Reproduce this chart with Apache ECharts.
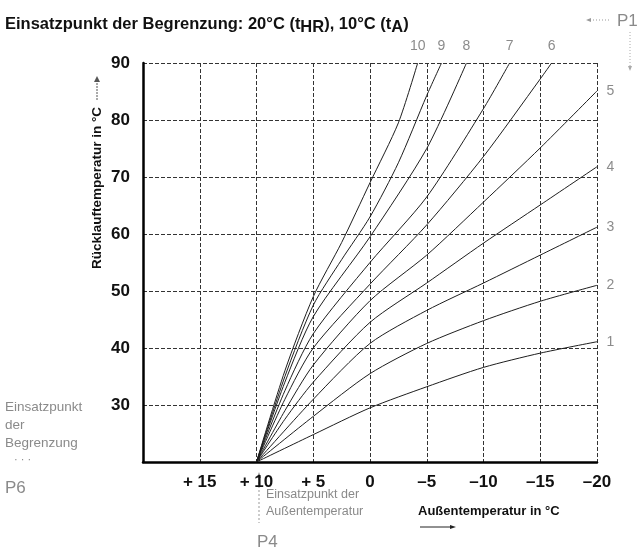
<!DOCTYPE html>
<html><head><meta charset="utf-8">
<script src="https://cdn.jsdelivr.net/npm/echarts@6/dist/echarts.min.js"></script>
<style>html,body{margin:0;padding:0;background:#fff}#c{width:638px;height:555px}</style>
</head><body><div id="c"></div>
<script>
// Axis ticks
const xTickValues = [20, 15, 10, 5, 0, -5, -10, -15, -20];
const xTickLabels = ['', '+ 15', '+ 10', '+ 5', '0', '–5', '–10', '–15', '–20'];
const yTickValues = [20, 30, 40, 50, 60, 70, 80, 90];
const yTickLabels = ['', '30', '40', '50', '60', '70', '80', '90'];

// Heating curve labels
const curveNames = ['1', '2', '3', '4', '5', '6', '7', '8', '9', '10'];

// Curves: [Außentemperatur, Rücklauftemperatur]
const kurve1  = [[10,20],[5,24.8],[0,29.5],[-5,33.2],[-10,36.6],[-15,39.1],[-20,41.1]];
const kurve2  = [[10,20],[5,28],[0,35.5],[-5,40.8],[-10,44.8],[-15,48.2],[-20,51]];
const kurve3  = [[10,20],[5,31],[0,40.8],[-5,46.6],[-10,51.4],[-15,56.3],[-20,61.2]];
const kurve4  = [[10,20],[7.5,27.5],[5,34],[0,44.5],[-5,51.4],[-10,58.4],[-15,65.1],[-20,71.8]];
const kurve5  = [[10,20],[7.5,29],[5,37],[0,48.3],[-5,56.3],[-10,65.6],[-15,75.1],[-20,85.1]];
const kurve6  = [[10,20],[7.5,31],[5,40],[0,51.2],[-5,61.6],[-10,73.6],[-15,87.2],[-16,90]];
const kurve7  = [[10,20],[7.5,32.5],[5,42.5],[0,55],[-5,66.5],[-10,82],[-12.3,90]];
const kurve8  = [[10,20],[7.5,34],[5,45.5],[0,59.5],[-5,75],[-8.5,90]];
const kurve9  = [[10,20],[7.5,35],[5,47.5],[2.5,55.5],[0,63],[-2.5,72.5],[-5,84.3],[-6.3,90]];
const kurve10 = [[10,20],[7.5,36],[5,49],[2.5,58.5],[0,69],[-2.5,79.5],[-4.2,90]];
const kurven = [kurve1, kurve2, kurve3, kurve4, kurve5, kurve6, kurve7, kurve8, kurve9, kurve10];

const FONT = 'Liberation Sans, Arial, Helvetica, sans-serif';
const xLabelMap = {}; xTickValues.forEach((v, i) => xLabelMap[v] = xTickLabels[i]);
const yLabelMap = {}; yTickValues.forEach((v, i) => yLabelMap[v] = yTickLabels[i]);

const gridLine = {show: true, lineStyle: {color: '#333', width: 1, type: [4, 2]}};

const lineSeries = kurven.map((pts, ci) => ({
  type: 'line',
  name: curveNames[ci],
  smooth: 0.25,
  showSymbol: false,
  symbol: 'none',
  lineStyle: {color: '#1e1e1e', width: 1},
  silent: true,
  animation: false,
  data: pts
}));

// End labels: placed at each curve's last point
const labelSeries = {
  type: 'scatter',
  silent: true,
  animation: false,
  symbolSize: 1,
  itemStyle: {color: 'rgba(0,0,0,0)'},
  data: kurven.map((pts, ci) => {
    const p = pts[pts.length - 1];
    const top = p[1] >= 90;
    return {
      value: p,
      label: {
        show: true,
        position: top ? 'top' : 'right',
        distance: 9,
        formatter: curveNames[ci],
        color: '#6e6e6e',
        fontSize: 14,
        fontFamily: FONT
      }
    };
  })
};

const grey = '#8a8a8a';
const chart = echarts.init(document.getElementById('c'), null, {renderer: 'canvas'});
chart.setOption({
  backgroundColor: '#fff',
  animation: false,
  title: {
    text: 'Einsatzpunkt der Begrenzung: 20°C (t{s|HR}), 10°C (t{s|A})',
    left: 0, top: 7, padding: [5, 5, 5, 5],
    textStyle: {
      fontSize: 16.5, fontWeight: 'bold', color: '#111', fontFamily: FONT,
      rich: {s: {fontSize: 16.5, fontWeight: 'bold', color: '#111', fontFamily: FONT, padding: [7, 0, 0, 0]}}
    }
  },
  grid: {left: 143, right: 41, top: 63, bottom: 93},
  xAxis: {
    type: 'value', min: -20, max: 20, interval: 5, inverse: true,
    axisLine: {show: true, onZero: false, lineStyle: {color: '#000', width: 2.5}},
    axisTick: {show: false},
    axisLabel: {formatter: v => xLabelMap[v] ?? '', fontSize: 17, fontWeight: 'bold', color: '#111', fontFamily: FONT, margin: 12},
    splitLine: gridLine
  },
  yAxis: {
    type: 'value', min: 20, max: 90, interval: 10,
    axisLine: {show: true, onZero: false, lineStyle: {color: '#000', width: 2.5}},
    axisTick: {show: false},
    axisLabel: {formatter: v => yLabelMap[v] ?? '', fontSize: 17, fontWeight: 'bold', color: '#111', fontFamily: FONT, margin: 13},
    splitLine: gridLine
  },
  graphic: [
    {type: 'text', x: 97, y: 188, rotation: Math.PI / 2,
     style: {text: 'Rücklauftemperatur in °C', align: 'center', verticalAlign: 'middle', fill: '#111', font: 'bold 13.5px ' + FONT}},
    {type: 'line', shape: {x1: 97, y1: 100, x2: 97, y2: 80}, style: {stroke: '#555', lineWidth: 1, lineDash: [2, 1]}},
    {type: 'polygon', shape: {points: [[94, 82], [100, 82], [97, 76]]}, style: {fill: '#555'}},

    {type: 'text', x: 5, y: 407, style: {text: 'Einsatzpunkt', fill: grey, font: '13.5px ' + FONT, verticalAlign: 'middle'}},
    {type: 'text', x: 5, y: 425, style: {text: 'der', fill: grey, font: '13.5px ' + FONT, verticalAlign: 'middle'}},
    {type: 'text', x: 5, y: 443, style: {text: 'Begrenzung', fill: grey, font: '13.5px ' + FONT, verticalAlign: 'middle'}},
    {type: 'text', x: 14, y: 460, style: {text: '· · ·', fill: grey, font: '11px ' + FONT, verticalAlign: 'middle'}},
    {type: 'text', x: 5, y: 488, style: {text: 'P6', fill: grey, font: '17px ' + FONT, verticalAlign: 'middle'}},

    {type: 'line', shape: {x1: 259, y1: 474, x2: 259, y2: 523}, style: {stroke: '#999', lineWidth: 1, lineDash: [2, 2]}},
    {type: 'polygon', shape: {points: [[257, 478], [261, 478], [259, 472]]}, style: {fill: '#888'}},
    {type: 'text', x: 266, y: 495, style: {text: 'Einsatzpunkt der', fill: grey, font: '12.5px ' + FONT, verticalAlign: 'middle'}},
    {type: 'text', x: 266, y: 512, style: {text: 'Außentemperatur', fill: grey, font: '12.5px ' + FONT, verticalAlign: 'middle'}},
    {type: 'text', x: 257, y: 542, style: {text: 'P4', fill: grey, font: '17px ' + FONT, verticalAlign: 'middle'}},

    {type: 'text', x: 418, y: 511, style: {text: 'Außentemperatur in °C', fill: '#111', font: 'bold 13px ' + FONT, verticalAlign: 'middle'}},
    {type: 'line', shape: {x1: 420, y1: 527, x2: 452, y2: 527}, style: {stroke: '#222', lineWidth: 1}},
    {type: 'polygon', shape: {points: [[450, 525], [450, 529], [456, 527]]}, style: {fill: '#222'}},

    {type: 'text', x: 617, y: 21, style: {text: 'P1', fill: grey, font: '17px ' + FONT, verticalAlign: 'middle'}},
    {type: 'line', shape: {x1: 590, y1: 20, x2: 610, y2: 20}, style: {stroke: '#999', lineWidth: 1, lineDash: [1, 2]}},
    {type: 'polygon', shape: {points: [[591, 18], [591, 22], [586, 20]]}, style: {fill: '#999'}},
    {type: 'line', shape: {x1: 630, y1: 32, x2: 630, y2: 70}, style: {stroke: '#aaa', lineWidth: 1, lineDash: [1, 2]}},
    {type: 'polygon', shape: {points: [[628, 66], [632, 66], [630, 71]]}, style: {fill: '#aaa'}}
  ],
  series: lineSeries.concat([labelSeries])
});
</script>
</body></html>
